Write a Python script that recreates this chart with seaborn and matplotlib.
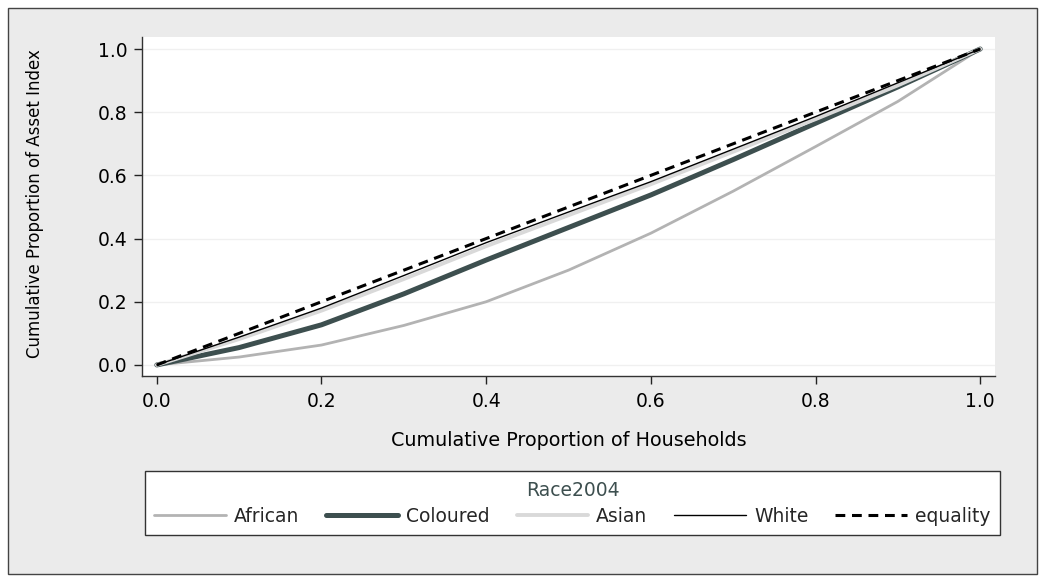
import matplotlib
matplotlib.use("Agg")
import matplotlib.pyplot as plt
import matplotlib.patches as mpatches
import seaborn as sns
import pandas as pd

# Cumulative share of households (x) and of the asset index (y) by group
households = [0.0, 0.1, 0.2, 0.3, 0.4, 0.5, 0.6, 0.7, 0.8, 0.9, 1.0]
african = [0.0, 0.025, 0.063, 0.125, 0.200, 0.300, 0.417, 0.550, 0.691, 0.834, 1.0]
coloured = [0.0, 0.055, 0.127, 0.225, 0.332, 0.435, 0.538, 0.650, 0.765, 0.880, 1.0]
asian = [0.0, 0.082, 0.172, 0.272, 0.376, 0.474, 0.572, 0.675, 0.778, 0.885, 1.0]
white = [0.0, 0.088, 0.180, 0.283, 0.387, 0.484, 0.580, 0.683, 0.786, 0.893, 1.0]
equality = households

ticks = [0.0, 0.2, 0.4, 0.6, 0.8, 1.0]
tick_labels = ["0.0", "0.2", "0.4", "0.6", "0.8", "1.0"]

series = [
    ("African", african, "#b3b3b3", 2.0, "-"),
    ("Coloured", coloured, "#3d4f4f", 3.6, "-"),
    ("Asian", asian, "#d9d9d9", 2.8, "-"),
    ("White", white, "#000000", 1.0, "-"),
    ("equality", equality, "#000000", 2.2, (0, (3.2, 2.2))),
]

sns.set_theme(style="white")
plt.rcParams["font.family"] = ["DejaVu Sans"]

W, H = 1046, 582
fig = plt.figure(figsize=(W / 100, H / 100), dpi=100, facecolor="white")

# Gray graph region with a thin dark frame
bg = mpatches.Rectangle((8 / W, 8 / H), 1029 / W, 566 / H,
                        transform=fig.transFigure, facecolor="#ebebeb",
                        edgecolor="#444444", linewidth=1.0, zorder=-10)
fig.patches.append(bg)

ax = fig.add_axes([142 / W, (H - 376) / H, 853 / W, 339 / H])
ax.set_facecolor("white")

handles = []
for name, vals, col, lw, ls in series:
    df = pd.DataFrame({"x": households, "y": vals})
    sns.lineplot(data=df, x="x", y="y", ax=ax, color=col, linewidth=lw,
                 linestyle=ls, label=name, legend=False)
    handles.append(ax.lines[-1])

ax.set_xlim(-0.018, 1.018)
ax.set_ylim(-0.035, 1.038)
ax.set_xticks(ticks)
ax.set_xticklabels(tick_labels)
ax.set_yticks(ticks)
ax.set_yticklabels(tick_labels)
ax.tick_params(axis="both", direction="out", length=5.5, width=1.0,
               color="#222222", labelsize=13.5, labelcolor="#000000",
               bottom=True, left=True)
ax.tick_params(axis="x", pad=6)
ax.tick_params(axis="y", pad=5)
for y in ticks:
    ax.axhline(y, color="#f0f0f0", linewidth=1.0, zorder=0)

for side in ("top", "right"):
    ax.spines[side].set_visible(False)
for side in ("left", "bottom"):
    ax.spines[side].set_color("#333333")
    ax.spines[side].set_linewidth(1.0)

ax.set_xlabel("Cumulative Proportion of Households", fontsize=13.8,
              color="#000000")
ax.xaxis.set_label_coords(0.5, (376 - 440) / 339)
ax.xaxis.label.set_va("center")
ax.set_ylabel("Cumulative Proportion of Asset Index", fontsize=12,
              color="#000000")
ax.yaxis.set_label_coords((35 - 142) / 853, (376 - 204) / 339)
ax.yaxis.label.set_va("center")

leg = fig.legend(handles, [s[0] for s in series], ncol=5,
                 title="Race2004", loc="lower left",
                 bbox_to_anchor=(145 / W, (H - 535) / H, 855 / W, 62 / H),
                 mode="expand", frameon=True, fancybox=False, fontsize=13.5,
                 title_fontsize=13.5, handlelength=3.8, handletextpad=0.45,
                 borderaxespad=0.0, borderpad=0.5, columnspacing=0.8,
                 labelspacing=0.38, framealpha=1.0)
leg.get_frame().set_edgecolor("#333333")
leg.get_frame().set_linewidth(1.0)
leg.get_frame().set_facecolor("white")
leg.get_title().set_color("#3d4f4f")

fig.savefig("out.png", dpi=100, facecolor=fig.get_facecolor())
